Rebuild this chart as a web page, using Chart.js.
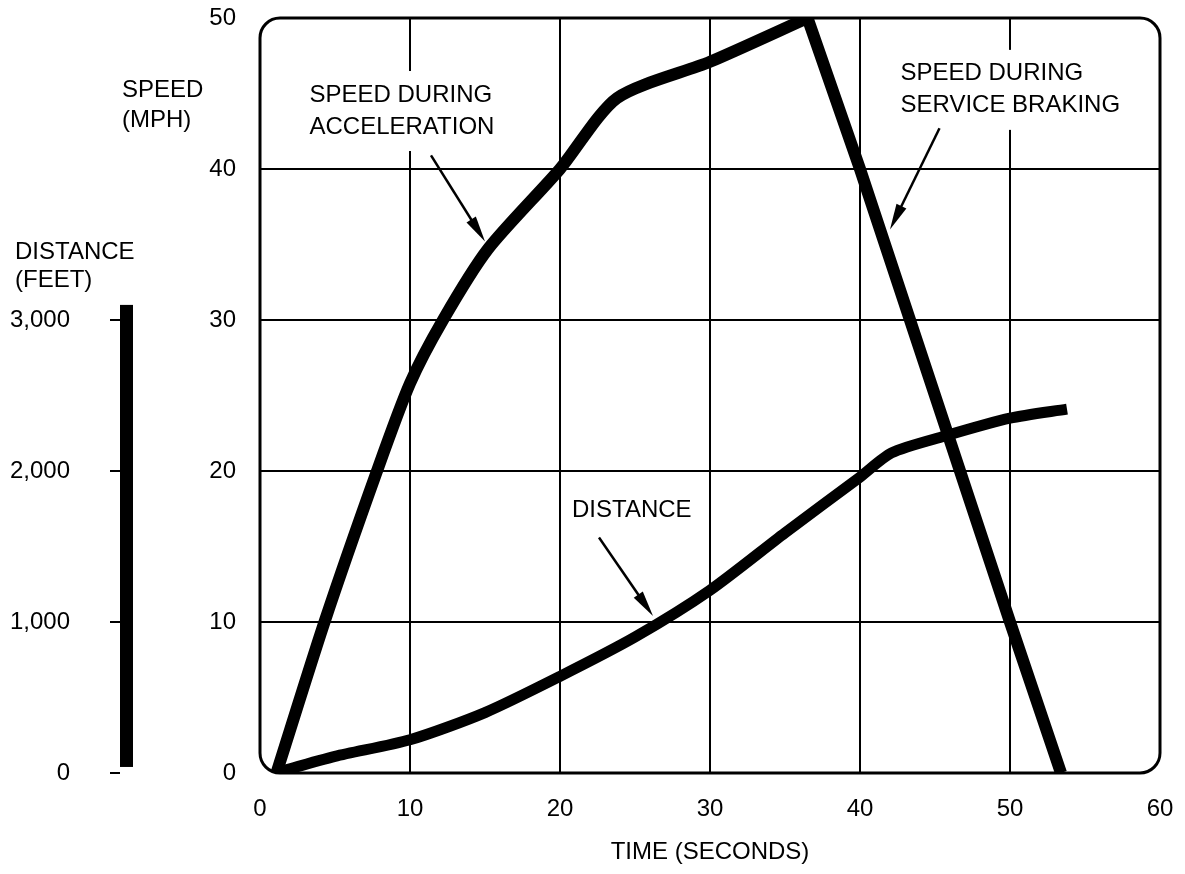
<!DOCTYPE html>
<html>
<head>
<meta charset="utf-8">
<script src="https://cdn.jsdelivr.net/npm/chart.js@4.4.1/dist/chart.umd.min.js"></script>
<style>
  html, body { margin: 0; padding: 0; background: #fff; }
  #wrap { width: 1185px; height: 874px; position: relative; }
</style>
</head>
<body>
<div id="wrap"><canvas id="speedChart"></canvas></div>
<script>
// ---- values ----
const accelTime  = [1.1, 4.3, 7.8, 10, 12.2, 15.2, 20, 23.8, 30, 36.5];
const accelSpeed = [0, 10, 20, 25.8, 30, 34.7, 40, 44.7, 47.1, 50];
const brakeTime  = [36.5, 40, 50, 53.4];
const brakeSpeed = [50, 40, 10, 0];
const distTime   = [1, 5, 10, 15, 20, 25, 30, 35, 40, 42.1, 45.6, 50, 53.8];
const distFeet   = [0, 110, 220, 400, 640, 900, 1210, 1590, 1960, 2120, 2230, 2350, 2410];
const timeTicks  = [0, 10, 20, 30, 40, 50, 60];
const speedTicks = [0, 10, 20, 30, 40, 50];
const distTicks  = [0, 1000, 2000, 3000];

const ink  = '#000';
const face = "'Liberation Sans', Arial, sans-serif";
const FONT = "24px " + face;

Chart.defaults.font.family = face;
Chart.defaults.font.size   = 24;
Chart.defaults.color       = ink;

const pts = (xs, ys) => xs.map((x, i) => ({ x: x, y: ys[i] }));
const fixTicks = list => scale => { scale.ticks = list.map(v => ({ value: v })); };

// keep label overhang out of the layout so the frame sits where the figure has it
const noPad = (w, h) => s => {
    s.paddingTop = s.paddingBottom = s.paddingLeft = s.paddingRight = 0;
    if (w) s.width = w;
    if (h) s.height = h;
};

// inner grid only; the rounded frame replaces the outer lines
const innerGrid = list => ({
    lineWidth: 2,
    drawTicks: false,
    color: c => (c.tick && (c.tick.value === list[0] || c.tick.value === list[list.length - 1])) ? 'rgba(0,0,0,0)' : ink
});

// ---- callouts inside the frame (time / speed units) ----
const notes = [
    { lines: ['SPEED DURING', 'ACCELERATION'],    t: 3.3,  v: 44.9, from: [11.4, 40.9], to: [15.0, 35.2] },
    { lines: ['SPEED DURING', 'SERVICE BRAKING'], t: 42.7, v: 46.3, from: [45.3, 42.7], to: [42.0, 36.0] },
    { lines: ['DISTANCE'],                        t: 20.8, v: 17.4, from: [22.6, 15.6], to: [26.2, 10.4] },
];

const figurePlugin = {
    id: 'figure',
    beforeDatasetsDraw(chart) {
        const { ctx, chartArea: a, scales } = chart;
        const x = scales.x, y = scales.y, yd = scales.yd;
        ctx.save();
        ctx.font = FONT;
        ctx.textBaseline = 'middle';
        ctx.textAlign = 'left';

        // labels inside, with white behind so grid lines break
        notes.forEach(n => {
            const lx = x.getPixelForValue(n.t);
            const ly = y.getPixelForValue(n.v);
            const w = Math.max(...n.lines.map(s => ctx.measureText(s).width));
            const h = 32 * (n.lines.length - 1);
            ctx.fillStyle = '#fff';
            ctx.fillRect(lx - 6, ly - 24, w + 12, h + 48);
            ctx.fillStyle = ink;
            n.lines.forEach((s, i) => ctx.fillText(s, lx, ly + i * 32));
        });

        // rounded frame
        ctx.lineWidth = 3;
        ctx.strokeStyle = ink;
        ctx.beginPath();
        ctx.roundRect(a.left, a.top, a.right - a.left, a.bottom - a.top, 20);
        ctx.stroke();

        // outside labels
        ctx.fillStyle = ink;
        ctx.fillText('SPEED', 122, y.getPixelForValue(45.2));
        ctx.fillText('(MPH)', 122, y.getPixelForValue(43.2));
        ctx.fillText('DISTANCE', 15, y.getPixelForValue(34.5));
        ctx.fillText('(FEET)', 15, y.getPixelForValue(32.6));

        // thick distance scale bar
        const top = yd.getPixelForValue(3100);
        const bot = yd.getPixelForValue(40);
        ctx.fillRect(yd.right, top, 13, bot - top);
        ctx.restore();
    },
    afterDatasetsDraw(chart) {
        const { ctx, scales } = chart;
        const x = scales.x, y = scales.y;
        ctx.save();
        ctx.strokeStyle = ink;
        ctx.fillStyle = ink;
        ctx.lineWidth = 2.5;
        notes.forEach(n => {
            const x0 = x.getPixelForValue(n.from[0]), y0 = y.getPixelForValue(n.from[1]);
            const x1 = x.getPixelForValue(n.to[0]),   y1 = y.getPixelForValue(n.to[1]);
            const len = Math.hypot(x1 - x0, y1 - y0);
            const ux = (x1 - x0) / len, uy = (y1 - y0) / len;
            const hl = 26, hw = 5.5;
            ctx.beginPath();
            ctx.moveTo(x0, y0);
            ctx.lineTo(x1 - ux * hl * 0.5, y1 - uy * hl * 0.5);
            ctx.stroke();
            ctx.beginPath();
            ctx.moveTo(x1, y1);
            ctx.lineTo(x1 - ux * hl - uy * hw, y1 - uy * hl + ux * hw);
            ctx.lineTo(x1 - ux * hl + uy * hw, y1 - uy * hl - ux * hw);
            ctx.closePath();
            ctx.fill();
        });
        ctx.restore();
    }
};

new Chart(document.getElementById('speedChart'), {
    type: 'line',
    data: {
        datasets: [
            { label: 'Speed during acceleration', data: pts(accelTime, accelSpeed), yAxisID: 'y',
              borderColor: ink, borderWidth: 12, tension: 0.25 },
            { label: 'Speed during service braking', data: pts(brakeTime, brakeSpeed), yAxisID: 'y',
              borderColor: ink, borderWidth: 12, tension: 0 },
            { label: 'Distance', data: pts(distTime, distFeet), yAxisID: 'yd',
              borderColor: ink, borderWidth: 11, tension: 0.25 },
        ]
    },
    options: {
        responsive: true,
        maintainAspectRatio: false,
        animation: false,
        layout: { padding: { top: 18, right: 25, bottom: 0, left: 0 } },
        elements: {
            line: { fill: false, borderCapStyle: 'butt', borderJoinStyle: 'round' },
            point: { radius: 0, hoverRadius: 0 }
        },
        plugins: { legend: { display: false }, tooltip: { enabled: false } },
        scales: {
            x: {
                type: 'linear', min: 0, max: 60,
                afterBuildTicks: fixTicks(timeTicks),
                afterFit: noPad(0, 101),
                grid: innerGrid(timeTicks),
                border: { display: false },
                ticks: { padding: 22, maxRotation: 0 },
                title: { display: true, text: 'TIME (SECONDS)', padding: { top: 0, bottom: 7 } }
            },
            y: {
                position: 'left', weight: 0, min: 0, max: 50,
                afterBuildTicks: fixTicks(speedTicks),
                afterFit: noPad(140, 0),
                grid: innerGrid(speedTicks),
                border: { display: false },
                ticks: { padding: 24 }
            },
            yd: {
                position: 'left', weight: 1, min: 0, max: 5000,
                afterBuildTicks: fixTicks(distTicks),
                afterFit: noPad(120, 0),
                grid: { drawOnChartArea: false, drawTicks: true, tickLength: 10, color: ink, lineWidth: 2 },
                border: { display: false },
                ticks: { padding: 40, callback: v => v.toLocaleString('en-US') }
            }
        }
    },
    plugins: [figurePlugin]
});
</script>
</body>
</html>
